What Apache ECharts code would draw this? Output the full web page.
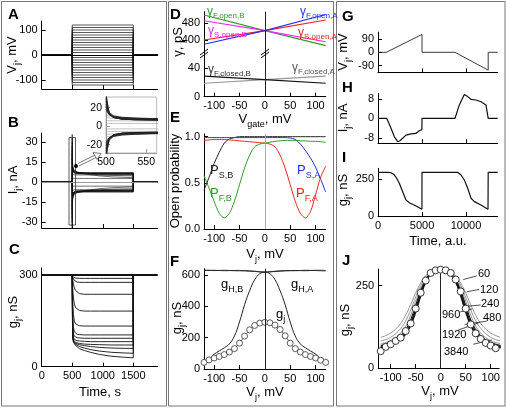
<!DOCTYPE html>
<html><head><meta charset="utf-8">
<script src="https://cdn.jsdelivr.net/npm/echarts@6/dist/echarts.min.js"></script>
<style>html,body{margin:0;padding:0;background:#fff}#c{width:506px;height:408px}</style>
</head><body><div id="c"></div><script>
// ---------------- DATA ----------------
const pulseStart = 500, pulseEnd = 1500, timeEnd = 1900;
const stepVoltages = [10,20,30,40,50,60,70,80,90,100,110,120];
const baselineG = 300;
const condTimes = [500,505,510,520,535,555,580,620,700,800,950,1150,1350,1500];
const condTraces = [
 [300,297,295,293,291,290,289,289,289,289,289,289,289,289],
 [300,295,291,286,282,279,277,276,276,276,276,276,276,276],
 [300,290,282,270,258,249,243,239,237,237,237,237,237,237],
 [300,270,250,225,205,193,187,184,182,182,182,182,182,182],
 [300,240,205,170,150,140,136,134,133,133,133,133,133,133],
 [300,200,160,128,114,108,106,105,104,104,104,104,104,104],
 [300,170,130,108,100,97,95,94,93,93,93,93,93,93],
 [300,150,115,95,89,86,85,84,83,82,82,82,82,82],
 [300,135,105,88,82,79,77,76,74,73,72,71,71,71],
 [300,125,98,84,79,76,74,72,69,66,63,61,60,60],
 [300,118,94,82,77,73,70,66,61,56,51,47,45,44],
 [300,115,92,80,74,69,64,59,53,47,40,34,31,29]
];
// D: unitary conductances vs gate voltage
const gateV = [-120, 0, 120];
const gFopenA = [380, 445, 522];
const gSopenA = [400, 445, 496];
const gSopenB = [492, 445, 392];
const gFopenB = [520, 445, 373];
const gFclosedB = [29, 24, 19];
const gFclosedA = [19, 24, 29];
// E: open probabilities
const vjGrid = [-120,-110,-100,-90,-80,-70,-60,-50,-40,-30,-20,-10,0,10,20,30,40,50,60,70,80,90,100,110,120];
const pSA = [0.99,0.99,0.99,0.99,0.99,0.99,0.99,0.99,0.99,0.99,0.99,0.99,0.99,0.99,0.99,0.99,0.99,0.985,0.97,0.92,0.85,0.77,0.67,0.54,0.40];
const pSB = [0.42,0.56,0.71,0.83,0.93,0.975,0.99,1,1,1,1,1,1,1,1,1,1,1,1,1,1,1,1,1,1];
const pFA = [0.96,0.965,0.97,0.97,0.97,0.965,0.96,0.955,0.95,0.945,0.94,0.935,0.93,0.92,0.89,0.80,0.66,0.48,0.30,0.17,0.12,0.19,0.37,0.56,0.68];
const pFB = [0.58,0.44,0.30,0.17,0.12,0.17,0.30,0.48,0.66,0.80,0.89,0.92,0.93,0.94,0.95,0.955,0.96,0.96,0.96,0.955,0.955,0.95,0.95,0.945,0.94];
// F: conductances
const fGj = [42,58,70,80,92,108,130,165,210,250,278,293,298,295,280,252,212,165,130,108,92,80,70,56,42];
const fBell = [45,65,95,115,135,160,210,300,410,500,570,608,618,608,570,500,410,300,210,160,135,115,95,65,45];
const hemiV = [-120,-100,-80,-60,-40,-20,0,20,40,60,80,100,120];
const gHB = [632,628,630,627,626,622,618,624,628,627,630,628,626];
const gHA = [628,630,627,629,628,624,618,622,626,629,627,630,629];
// G, H, I: ramp protocol
const rampTimes = [0,950,5000,5000,8750,12520,12520,13600];
const rampVolt = [0,0,120,0,0,-120,0,0];
const hTimes = [0,990,1480,1850,2240,2500,2800,3180,3750,4300,4700,4990,5000,8750,9240,9810,10190,10570,11130,11700,12270,12460,12520,13600];
const hCurr = [0,0,-4.1,-7.5,-9.6,-9.2,-8.2,-6.9,-6.4,-6.2,-5.1,-4.6,0,0,5.5,9.8,8.9,7.8,7.5,6.8,5.5,4.8,0,0];
const iTimes = [0,1200,1480,1850,2120,2420,2800,3180,3560,4320,4990,5000,9050,9430,9810,10190,10570,10950,11700,12500,12520,13600];
const iCond = [295,295,292,278,255,221,164,108,90,68,45,295,295,277,243,187,120,97,74,45,295,295];
// J: steady-state gj and model curves for several durations
const jGj = [51,64,72,82,92,112,135,180,228,265,288,296,298,296,288,268,232,180,132,105,88,76,68,60,52];
const jDurations = ['60','120','240','480','960','1920','3840'];
const jCurves = [
 [93,98,106,118,135,160,192,228,258,280,292,297,298,297,292,280,258,228,192,160,135,118,106,98,93],
 [82,86,93,104,120,143,176,215,250,276,290,297,298,297,290,276,250,215,176,143,120,104,93,86,82],
 [73,77,83,92,106,127,160,202,242,272,288,296,298,296,288,272,242,202,160,127,106,92,83,77,73],
 [68,72,77,85,97,116,146,190,234,268,287,296,298,296,287,268,234,190,146,116,97,85,77,72,68],
 [65,69,74,81,92,110,138,181,228,265,286,296,298,296,286,265,228,181,138,110,92,81,74,69,65],
 [63,67,72,79,89,105,132,174,222,262,285,296,298,296,285,262,222,174,132,105,89,79,72,67,63],
 [61,65,70,77,87,102,128,168,217,260,284,296,298,296,284,260,217,168,128,102,87,77,70,65,61]
];

// ---------------- CHART ----------------
const FF = '"Liberation Sans", Arial, Helvetica, sans-serif';
const grids = [
 {left:41.7, top:21, width:116, height:68},
 {left:41.7, top:133, width:116, height:95},
 {left:106, top:97, width:50.7, height:56, borderWidth:1, borderColor:'#bbb'},
 {left:41.7, top:268, width:116, height:98.7},
 {left:204, top:11.7, width:121.7, height:41.3},
 {left:204, top:53, width:121.7, height:43.7},
 {left:204, top:134, width:121.7, height:95},
 {left:204, top:268.7, width:121.7, height:100.3},
 {left:378, top:32.2, width:119.7, height:40.2},
 {left:378, top:93.3, width:119.7, height:50},
 {left:378, top:168.3, width:119.7, height:47.7},
 {left:378.2, top:269, width:121, height:99}
].map(g => Object.assign({show:true, backgroundColor:'#fff', borderWidth:0, containLabel:false}, g));

function axis(gi, min, max, ticks, labels, opt) {
  opt = opt || {};
  return {
    type:'value', gridIndex:gi, min, max,
    axisLine:{show: opt.line !== false, onZero:false, lineStyle:{color: opt.color || '#000', width:1}},
    axisTick:{show:true, inside:true, length:4, customValues:ticks, lineStyle:{color: opt.color || '#000', width:1}},
    axisLabel:{show:labels, customValues:ticks, fontSize: opt.fs || 11, color:'#000', fontFamily:FF, margin:4,
      formatter: opt.fmt || (v => String(v))},
    splitLine:{show:false}
  };
}
const xAxes = [
  axis(0, 0, timeEnd, [500,1000,1500], false),
  axis(1, 0, timeEnd, [500,1000,1500], false),
  axis(2, 500, 563, [500,550], true, {color:'#999', fs:10.5}),
  axis(3, 0, timeEnd, [0,500,1000,1500], true),
  axis(4, -120, 120, [], false, {line:false}),
  axis(5, -120, 120, [-100,-50,0,50,100], true),
  axis(6, -120, 120, [-100,-50,0,50,100], true),
  axis(7, -120, 120, [-100,-50,0,50,100], true),
  axis(8, 0, 13600, [5000,10000], false),
  axis(9, 0, 13600, [5000,10000], false),
  axis(10, 0, 13600, [0,5000,10000], true),
  axis(11, -125, 117, [-100,-50,0,50,100], true)
];
const yAxes = [
  axis(0, -136, 136, [-100,0,100], true),
  axis(1, -34.3, 37, [-30,-15,0,15,30], true),
  axis(2, -29, 31.5, [-20,0,20], true, {color:'#999', fs:10.5}),
  axis(3, 0, 323, [0,300], true),
  axis(4, 337.7, 535.6, [400,480], true),
  axis(5, 0, 61.5, [0,40], true),
  axis(6, 0, 1.029, [0,0.5,1], true, {fmt: v => v.toFixed(1)}),
  axis(7, 0, 640, [0,200,400,600], true),
  axis(8, -135, 135, [-90,0,90], true),
  axis(9, -10.26, 10.26, [-8,0,8], true),
  axis(10, 0, 322, [0,250], true),
  axis(11, 0, 300, [0,250], true)
];

const series = [];
function line(gi, data, color, width, extra) {
  const s = Object.assign({type:'line', xAxisIndex:gi, yAxisIndex:gi, data, symbol:'none', showSymbol:false,
    silent:true, animation:false, clip:true, lineStyle:{color, width}}, extra || {});
  series.push(s); return s;
}
const vLine0 = (color) => ({silent:true, symbol:'none', label:{show:false}, animation:false,
  lineStyle:{color, width:1, type:'solid'}, data:[{xAxis:0}]});
const hLine0 = (color) => ({silent:true, symbol:'none', label:{show:false}, animation:false,
  lineStyle:{color, width:1, type:'solid'}, data:[{yAxis:0}]});

// A: voltage steps
const signedV = [];
stepVoltages.forEach(v => { signedV.push(v); signedV.push(-v); });
signedV.forEach((v, k) => {
  line(0, [[0,0],[pulseStart,0],[pulseStart,v],[pulseEnd,v],[pulseEnd,0],[timeEnd,0]], '#111', 0.7,
    k === 0 ? {markLine: hLine0('#000')} : {});
});
// B: currents (g * V)
stepVoltages.forEach((v, i) => {
  [1, -1].forEach(sg => {
    const pts = condTimes.map((t, j) => [t, sg * v * condTraces[i][j] / 1000]);
    line(1, [[0,0],[pulseStart,0]].concat(pts, [[pulseEnd,0],[timeEnd,0]]), '#111', 0.6,
      (i === 0 && sg === 1) ? {markLine: hLine0('#999')} : {});
    line(2, pts, v >= 60 ? '#222' : '#999', v >= 60 ? 0.9 : 0.6, {smooth:0.35, smoothMonotone:'x'});
  });
});
// C: conductance
line(3, [[0,baselineG],[timeEnd,baselineG]], '#111', 2);
condTraces.forEach(tr => {
  line(3, condTimes.map((t, j) => [t, tr[j]]).concat([[pulseEnd, baselineG]]), '#111', 0.9);
});
// D
const dz = (arr) => gateV.map((v, i) => [v, arr[i]]);
line(4, dz(gFopenB), '#2e9b2e', 1.1, {markLine: vLine0('#222')});
line(4, dz(gSopenB), '#ff22ff', 1.1);
line(4, dz(gSopenA), '#ee2222', 1.1);
line(4, dz(gFopenA), '#2233ee', 1.1);
line(5, dz(gFclosedA), '#999', 1.1, {markLine: vLine0('#222')});
line(5, dz(gFclosedB), '#111', 1.1);
// E
const ez = (arr) => vjGrid.map((v, i) => [v, arr[i]]);
line(6, ez(pSB), '#222', 1, {smooth:0.3, markLine: vLine0('#aaa')});
line(6, ez(pSA), '#2233dd', 1, {smooth:0.3});
line(6, ez(pFA), '#ee2222', 1, {smooth:0.3});
line(6, ez(pFB), '#2e9b2e', 1, {smooth:0.3});
// F
line(7, hemiV.map((v, i) => [v, gHB[i]]), '#222', 0.9, {smooth:0.3, markLine: vLine0('#222')});
line(7, hemiV.map((v, i) => [v, gHA[i]]), '#222', 0.9, {smooth:0.3});
line(7, ez(fBell), '#222', 1, {smooth:0.4});
line(7, ez(fGj), '#333', 0.8, {smooth:0.3, symbol:'circle', showSymbol:true, symbolSize:6,
  itemStyle:{color:'#fff', borderColor:'#333', borderWidth:0.8, opacity:1}});
// G H I
line(8, rampTimes.map((t, i) => [t, rampVolt[i]]), '#222', 0.9);
line(9, hTimes.map((t, i) => [t, hCurr[i]]), '#111', 1.2);
line(10, iTimes.map((t, i) => [t, iCond[i]]), '#111', 1.2);
// J
jCurves.forEach((c, k) => {
  line(11, ez(c), k < 3 ? '#8a8a8a' : '#111', k < 3 ? 0.9 : 1.1, Object.assign({smooth:0.4},
    k === 0 ? {markLine: vLine0('#222')} : {}));
});
const jArrows = [
  [[72,279],[45,268]], [[77,238],[52,231]], [[80,191],[44,186]], [[92,142],[48,132]],
  [[39,170],[63,179]], [[35,115],[78,138]], [[102,85],[65,72]]
];
series.push({type:'scatter', xAxisIndex:11, yAxisIndex:11, data: ez(jGj), symbol:'circle', symbolSize:7,
  silent:true, animation:false, z:5,
  itemStyle:{color:'#fff', borderColor:'#222', borderWidth:0.9, opacity:1},
  markLine:{silent:true, animation:false, symbol:['none','arrow'], symbolSize:[0,5], label:{show:false},
    lineStyle:{color:'#222', width:0.8, type:'solid'},
    data: jArrows.map(a => [{coord:a[0]}, {coord:a[1]}])}});

// ---------------- TEXT / DECOR ----------------
const RT = {
  n:{fontSize:13, fontFamily:FF, lineHeight:15, verticalAlign:'top'},
  s:{fontSize:9, fontFamily:FF, lineHeight:10, padding:[8,0,0,0], verticalAlign:'top'},
  g:{fontSize:12, fontFamily:FF, lineHeight:13, verticalAlign:'top'},
  gs:{fontSize:8, fontFamily:FF, lineHeight:9, padding:[6,0,0,0], verticalAlign:'top'},
  p:{fontSize:13, fontFamily:FF, lineHeight:14, verticalAlign:'top'},
  ps:{fontSize:9, fontFamily:FF, lineHeight:10, padding:[7,0,0,0], verticalAlign:'top'}
};
function T(x, y, text, o) {
  o = o || {};
  return {type:'text', x, y, rotation: o.rot ? Math.PI/2 : 0, z:100,
    style:{text, rich:RT, fill: o.fill || '#000', align: o.align || 'center', verticalAlign:'middle',
      font: o.font || ('13px ' + FF)}};
}
const LF = 'bold 15px ' + FF;
const graphic = [
  {type:'rect', z:-10, shape:{x:1.5, y:1.5, width:165, height:404.5}, style:{fill:'none', stroke:'#777', lineWidth:1}},
  {type:'rect', z:-10, shape:{x:168.5, y:1.5, width:165, height:404.5}, style:{fill:'none', stroke:'#777', lineWidth:1}},
  {type:'rect', z:-10, shape:{x:336.5, y:1.5, width:168.5, height:404.5}, style:{fill:'none', stroke:'#777', lineWidth:1}},
  // panel letters
  T(8, 15, 'A', {align:'left', font:LF}),
  T(8, 123, 'B', {align:'left', font:LF}),
  T(9, 250, 'C', {align:'left', font:LF}),
  T(170, 15, 'D', {align:'left', font:LF}),
  T(170, 118, 'E', {align:'left', font:LF}),
  T(170, 262, 'F', {align:'left', font:LF}),
  T(342, 17, 'G', {align:'left', font:LF}),
  T(342, 88, 'H', {align:'left', font:LF}),
  T(342, 158, 'I', {align:'left', font:LF}),
  T(342, 261, 'J', {align:'left', font:LF}),
  // axis titles
  T(13, 55, '{n|V}{s|j}{n|, mV}', {rot:true}),
  T(14, 180, '{n|I}{s|j}{n|, nA}', {rot:true}),
  T(14, 312, '{n|g}{s|j}{n|, nS}', {rot:true}),
  T(100, 393, '{n|Time, s}'),
  T(179, 42, '{n|γ, pS}', {rot:true}),
  T(265, 120, '{n|V}{s|gate}{n|, mV}'),
  T(176, 181, '{n|Open probability}', {rot:true}),
  T(265, 255, '{n|V}{s|j}{n|, mV}'),
  T(178, 318, '{n|g}{s|j}{n|, nS}', {rot:true}),
  T(265, 393, '{n|V}{s|j}{n|, mV}'),
  T(344, 52, '{n|V}{s|j}{n|, mV}', {rot:true}),
  T(344, 118, '{n|I}{s|j}{n|, nA}', {rot:true}),
  T(344, 190, '{n|g}{s|j}{n|, nS}', {rot:true}),
  T(438, 242, '{n|Time, a.u.}'),
  T(346, 320, '{n|g}{s|j}{n|, nS}', {rot:true}),
  T(440, 392, '{n|V}{s|j}{n|, mV}'),
  // D labels
  T(207, 12, '{g|γ}{gs|F,open,B}', {align:'left', fill:'#2e9b2e'}),
  T(208, 31, '{g|γ}{gs|S,open,B}', {align:'left', fill:'#ee22ee'}),
  T(300, 12, '{g|γ}{gs|F,open,A}', {align:'left', fill:'#2233ee'}),
  T(298, 33, '{g|γ}{gs|S,open,A}', {align:'left', fill:'#ee2222'}),
  T(208, 70, '{g|γ}{gs|F,closed,B}', {align:'left', fill:'#333'}),
  T(292, 68, '{g|γ}{gs|F,closed,A}', {align:'left', fill:'#555'}),
  // E labels
  T(210, 171, '{p|P}{ps|S,B}', {align:'left', fill:'#222'}),
  T(210, 194, '{p|P}{ps|F,B}', {align:'left', fill:'#2e9b2e'}),
  T(297, 171, '{p|P}{ps|S,A}', {align:'left', fill:'#2233dd'}),
  T(296, 194, '{p|P}{ps|F,A}', {align:'left', fill:'#ee2222'}),
  // F labels
  T(221, 285, '{p|g}{ps|H,B}', {align:'left'}),
  T(291, 285, '{p|g}{ps|H,A}', {align:'left'}),
  T(276, 315, '{p|g}{ps|j}', {align:'left'}),
  // J labels
  T(478, 274, '60', {align:'left', font:'11px ' + FF}),
  T(480, 290, '120', {align:'left', font:'11px ' + FF}),
  T(481, 304, '240', {align:'left', font:'11px ' + FF}),
  T(483, 318, '480', {align:'left', font:'11px ' + FF}),
  T(442, 315, '960', {align:'left', font:'11px ' + FF}),
  T(442, 335, '1920', {align:'left', font:'11px ' + FF}),
  T(444, 352, '3840', {align:'left', font:'11px ' + FF}),
  // D breaks
  {type:'line', z:100, shape:{x1:200, y1:55, x2:208, y2:49}, style:{stroke:'#000', lineWidth:1}},
  {type:'line', z:100, shape:{x1:200, y1:58, x2:208, y2:52}, style:{stroke:'#000', lineWidth:1}},
  {type:'line', z:100, shape:{x1:261, y1:55, x2:269, y2:49}, style:{stroke:'#000', lineWidth:1}},
  {type:'line', z:100, shape:{x1:261, y1:58, x2:269, y2:52}, style:{stroke:'#000', lineWidth:1}},
  // B zoom box and arrow
  {type:'rect', z:100, shape:{x:69, y:137.5, width:6.5, height:87.5}, style:{fill:'none', stroke:'#333', lineWidth:0.8}},
  {type:'circle', z:101, shape:{cx:76, cy:166, r:2}, style:{fill:'#000'}},
  {type:'polyline', z:101, shape:{points:[[78,163.5],[95,155]]}, style:{stroke:'#555', lineWidth:0.8, fill:'none'}},
  {type:'polyline', z:101, shape:{points:[[79,166],[96,157.5]]}, style:{stroke:'#555', lineWidth:0.8, fill:'none'}},
  {type:'polygon', z:101, shape:{points:[[93,152.5],[101,153.5],[97,159.5]]}, style:{stroke:'#555', lineWidth:0.8, fill:'#fff'}}
];

const chart = echarts.init(document.getElementById('c'), null, {renderer:'canvas'});
chart.setOption({
  animation:false, backgroundColor:'#fff',
  grid: grids, xAxis: xAxes, yAxis: yAxes, series, graphic
});
</script></body></html>
